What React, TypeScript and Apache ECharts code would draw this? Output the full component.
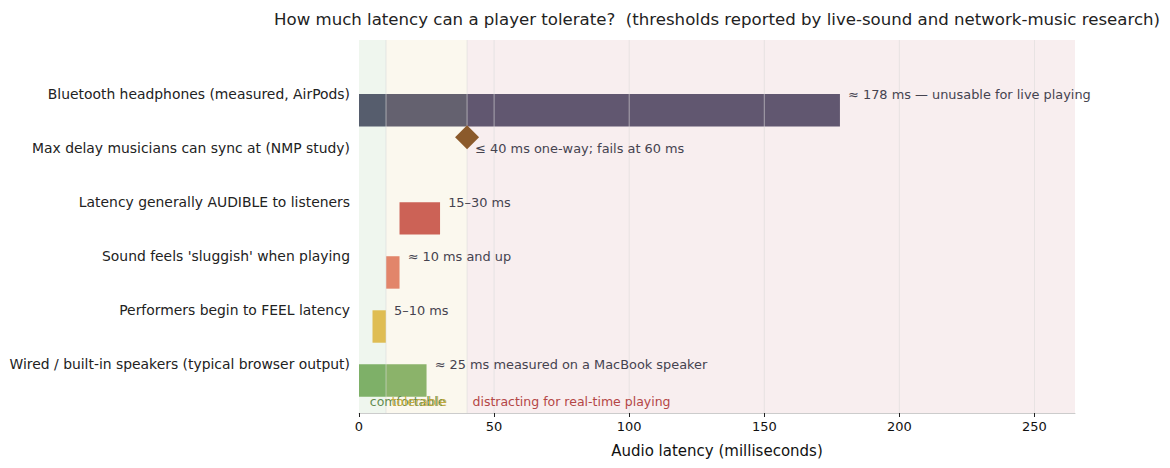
import React, { useEffect, useRef } from "react";
import * as echarts from "echarts";

const FONT = "'DejaVu Sans', Verdana, sans-serif";

const categories = [
  "Bluetooth headphones (measured, AirPods)",
  "Max delay musicians can sync at (NMP study)",
  "Latency generally AUDIBLE to listeners",
  "Sound feels 'sluggish' when playing",
  "Performers begin to FEEL latency",
  "Wired / built-in speakers (typical browser output)",
];

// range bars: [start ms, end ms, row]
const barStarts = [0, 15, 10, 5, 0];
const barEnds = [178, 30, 15, 10, 25];
const barRows = [0, 2, 3, 4, 5];
const barColors = ["#575772", "#cb5856", "#e47f6c", "#eec155", "#83b36c"];

// single-point marker (NMP study)
const markerValue = 40;
const markerRow = 0.8;

const annotationTexts = [
  "≈ 178 ms — unusable for live playing",
  "≤ 40 ms one-way; fails at 60 ms",
  "15–30 ms",
  "≈ 10 ms and up",
  "5–10 ms",
  "≈ 25 ms measured on a MacBook speaker",
];
const annotationValues = [178, 40, 30, 15, 10, 25];
const annotationRows = [0, 1, 2, 3, 4, 5];

const bandStarts = [0, 10, 40];
const bandEnds = [10, 40, 265];
const bandNames = ["comfortable", "tolerable", "distracting for real-time playing"];
const bandLabelX = [4, 12, 42];
const bandFills = ["rgba(80,150,70,0.09)", "rgba(215,185,85,0.1)", "rgba(185,85,95,0.1)"];
const bandTextColors = ["#648c50", "#c8aa3c", "#b44646"];

const xTicks = [50, 100, 150, 200, 250];
const bandEdges = [10, 40];

const Y_MIN = -1;
const Y_MAX = 5.9;

export default function App() {
  const ref = useRef<HTMLDivElement>(null);
  useEffect(() => {
    const chart = echarts.init(ref.current!, null, { renderer: "svg" });
    const option: any = {
      animation: false,
      backgroundColor: "#ffffff",
      textStyle: { fontFamily: FONT },
      graphic: [
        {
          type: "text",
          x: 717,
          y: 19,
          style: {
            text: "How much latency can a player tolerate?  (thresholds reported by live-sound and network-music research)",
            align: "center",
            verticalAlign: "middle",
            font: `16.6px ${FONT}`,
            fill: "#222222",
          },
        },
      ],
      grid: { left: 359, right: 95, top: 40, bottom: 55 },
      xAxis: {
        type: "value",
        min: 0,
        max: 265,
        interval: 50,
        name: "Audio latency (milliseconds)",
        nameLocation: "middle",
        nameGap: 30,
        nameTextStyle: { fontSize: 15, color: "#111111", fontFamily: FONT },
        axisLine: { show: true, onZero: false, lineStyle: { color: "#cccccc" } },
        axisTick: { show: true, length: 4, lineStyle: { color: "#222222" } },
        axisLabel: { fontSize: 13, color: "#111111", fontFamily: FONT, margin: 7, showMaxLabel: false },
        splitLine: { show: false },
      },
      yAxis: {
        type: "value",
        inverse: true,
        min: Y_MIN,
        max: Y_MAX,
        interval: 1,
        axisLine: { show: false, onZero: false },
        axisTick: { show: false },
        splitLine: { show: false },
        axisLabel: {
          fontSize: 13.9,
          color: "#222222",
          fontFamily: FONT,
          margin: 9,
          showMaxLabel: false,
          formatter: (v: number) => {
            const i = Math.round(v);
            if (Math.abs(v - i) > 1e-6 || i < 0 || i >= categories.length) return "";
            return categories[i];
          },
        },
      },
      series: [
        {
          type: "custom",
          name: "bars",
          z: 1,
          data: barStarts.map((s, i) => [s, barEnds[i], barRows[i], i]),
          encode: { x: [0, 1], y: 2 },
          renderItem: (params: any, api: any) => {
            const s = api.value(0);
            const e = api.value(1);
            const k = api.value(2);
            const p0 = api.coord([s, k]);
            const p1 = api.coord([e, k + 0.6]);
            return {
              type: "rect",
              shape: { x: p0[0], y: p0[1], width: p1[0] - p0[0], height: p1[1] - p0[1] },
              style: { fill: barColors[params.dataIndex] },
            };
          },
        },
        {
          type: "custom",
          name: "bands",
          z: 2,
          silent: true,
          data: bandStarts.map((s, i) => [s, bandEnds[i], i]),
          encode: { x: [0, 1] },
          renderItem: (params: any, api: any) => {
            const p0 = api.coord([api.value(0), Y_MIN]);
            const p1 = api.coord([api.value(1), Y_MAX]);
            return {
              type: "rect",
              shape: { x: p0[0], y: p0[1], width: p1[0] - p0[0], height: p1[1] - p0[1] },
              style: { fill: bandFills[params.dataIndex] },
            };
          },
        },
        {
          type: "custom",
          name: "grid",
          z: 3,
          silent: true,
          data: [...xTicks, ...bandEdges].map((v) => [v]),
          encode: { x: 0 },
          renderItem: (params: any, api: any) => {
            const v = api.value(0);
            const p0 = api.coord([v, Y_MIN]);
            const p1 = api.coord([v, Y_MAX]);
            return {
              type: "line",
              shape: { x1: p0[0], y1: p0[1], x2: p1[0], y2: p1[1] },
              style: { stroke: "rgba(220,218,218,0.6)", lineWidth: 1 },
            };
          },
        },
        {
          type: "scatter",
          name: "marker",
          z: 4,
          symbol: "diamond",
          symbolSize: [24, 24],
          itemStyle: { color: "#8b5a2b", opacity: 1 },
          data: [[markerValue, markerRow]],
        },
        {
          type: "custom",
          name: "annotations",
          z: 5,
          silent: true,
          data: annotationValues.map((v, i) => [v + 3, annotationRows[i], i]),
          encode: { x: 0, y: 1 },
          renderItem: (params: any, api: any) => {
            const p = api.coord([api.value(0), api.value(1)]);
            return {
              type: "text",
              x: p[0],
              y: p[1],
              style: {
                text: annotationTexts[params.dataIndex],
                align: "left",
                verticalAlign: "middle",
                font: `12.9px ${FONT}`,
                fill: "#45434f",
              },
            };
          },
        },
        {
          type: "custom",
          name: "bandLabels",
          z: 5,
          silent: true,
          data: bandLabelX.map((v, i) => [v, 5.69, i]),
          encode: { x: 0, y: 1 },
          renderItem: (params: any, api: any) => {
            const p = api.coord([api.value(0), api.value(1)]);
            return {
              type: "text",
              x: p[0],
              y: p[1],
              style: {
                text: bandNames[params.dataIndex],
                align: "left",
                verticalAlign: "middle",
                font: `12.5px ${FONT}`,
                fill: bandTextColors[params.dataIndex],
              },
            };
          },
        },
      ],
    };
    chart.setOption(option);
    return () => chart.dispose();
  }, []);
  return (
    <div
      ref={ref}
      style={{ position: "absolute", left: 0, top: 0, width: 1170, height: 468 }}
    />
  );
}
